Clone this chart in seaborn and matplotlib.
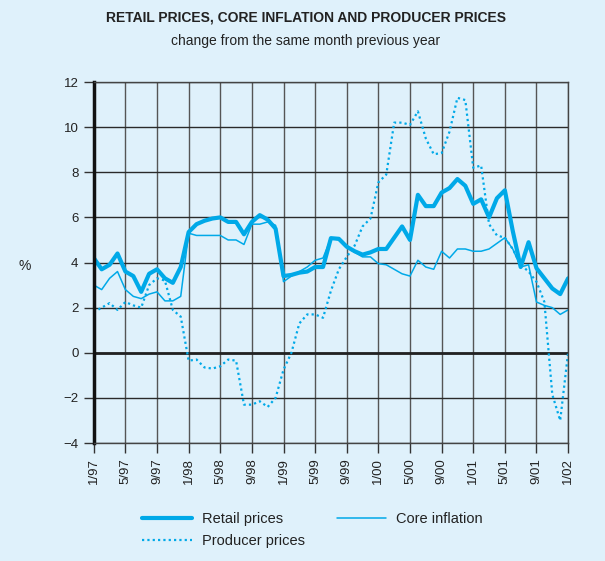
import matplotlib
matplotlib.use("Agg")
import matplotlib.pyplot as plt
import numpy as np
import pandas as pd
import seaborn as sns

# monthly data, 1/97 .. 1/02 (% change from same month previous year)
retail = [4.2, 3.7, 3.9, 4.4, 3.6, 3.4, 2.7, 3.5, 3.7, 3.3, 3.1, 3.8,
          5.35, 5.7, 5.85, 5.95, 6.0, 5.8, 5.8, 5.25, 5.8, 6.1, 5.9, 5.5,
          3.4, 3.45, 3.55, 3.6, 3.8, 3.8, 5.08, 5.05, 4.7, 4.5, 4.35, 4.45,
          4.6, 4.6, 5.1, 5.6, 5.0, 7.0, 6.5, 6.5, 7.1, 7.3, 7.7, 7.4,
          6.6, 6.8, 6.0, 6.85, 7.2, 5.4, 3.8, 4.9, 3.75, 3.3, 2.85, 2.6,
          3.3]
core = [3.0, 2.8, 3.3, 3.6, 2.8, 2.5, 2.4, 2.6, 2.7, 2.3, 2.3, 2.5,
        5.3, 5.2, 5.2, 5.2, 5.2, 5.0, 5.0, 4.8, 5.7, 5.7, 5.8, 5.65,
        3.15, 3.4, 3.6, 3.8, 4.1, 4.2, 5.08, 5.0, 4.7, 4.45, 4.25, 4.25,
        3.95, 3.9, 3.7, 3.5, 3.4, 4.1, 3.8, 3.7, 4.5, 4.2, 4.6, 4.6,
        4.5, 4.5, 4.6, 4.85, 5.1, 4.6, 3.8, 3.9, 2.25, 2.1, 2.0, 1.7,
        1.9]
producer = [1.8, 2.0, 2.2, 1.9, 2.25, 2.1, 2.0, 3.0, 3.3, 3.2, 1.9, 1.6,
            -0.35, -0.3, -0.65, -0.7, -0.6, -0.3, -0.35, -2.3, -2.3, -2.15, -2.4, -2.0,
            -0.75, 0.0, 1.3, 1.7, 1.7, 1.55, 2.75, 3.7, 4.25, 4.75, 5.6, 5.95,
            7.55, 7.9, 10.2, 10.2, 10.1, 10.7, 9.5, 8.8, 8.85, 9.8, 11.3, 11.2,
            8.2, 8.3, 5.7, 5.2, 5.1, 4.6, 3.9, 3.6, 3.15, 2.25, -1.85, -3.0,
            0.0]
tick_labels = ["1/97", "5/97", "9/97", "1/98", "5/98", "9/98", "1/99", "5/99",
               "9/99", "1/00", "5/00", "9/00", "1/01", "5/01", "9/01", "1/02"]

BG = "#dff1fb"
LINE = "#00a9e8"

sns.set_theme(style="white")
plt.rcParams["font.family"] = ["Liberation Sans", "DejaVu Sans"]

months = np.arange(len(retail))
df = pd.DataFrame({"month": months, "Retail prices": retail,
                   "Core inflation": core, "Producer prices": producer})

fig = plt.figure(figsize=(6.05, 5.61), dpi=100, facecolor=BG)
ax = fig.add_axes([0.155, 0.2103, 0.784, 0.6435], facecolor=BG)

sns.lineplot(data=df, x="month", y="Retail prices", ax=ax, color=LINE,
             linewidth=3.0, label="Retail prices")
sns.lineplot(data=df, x="month", y="Core inflation", ax=ax, color=LINE,
             linewidth=1.1, label="Core inflation")
sns.lineplot(data=df, x="month", y="Producer prices", ax=ax, color=LINE,
             linewidth=1.6, linestyle=(0, (1, 1.4)), label="Producer prices")

ax.set_xlim(0, 60)
ax.set_ylim(-4, 12)
ax.set_xticks(np.arange(0, 61, 4))
ax.set_xticklabels(tick_labels, rotation=90, fontsize=9.5, color="#222222")
ax.set_yticks(np.arange(-4, 13, 2))
ax.set_yticklabels([str(v).replace("-", "\u2212") for v in range(-4, 13, 2)],
                   fontsize=9.5, color="#222222")
ax.tick_params(axis="both", length=7, width=1.0, color="#333333",
               bottom=True, left=True, pad=4)
ax.grid(True, axis="x", color="#555555", linewidth=1.0)
ax.grid(True, axis="y", color="#2a2a2a", linewidth=1.0)
ax.set_axisbelow(True)
ax.axhline(0, color="#222222", linewidth=2.0, zorder=1.5)

for side in ["top", "right", "bottom"]:
    ax.spines[side].set_color("#444444")
    ax.spines[side].set_linewidth(1.0)
ax.spines["left"].set_color("#111111")
ax.spines["left"].set_linewidth(2.5)

ax.set_xlabel("")
ax.set_ylabel("%", rotation=0, fontsize=10, color="#222222")
ax.yaxis.set_label_coords(-0.145, 0.47)

fig.text(0.505, 0.968, "RETAIL PRICES, CORE INFLATION AND PRODUCER PRICES",
         ha="center", va="center", fontsize=10, fontweight="bold", color="#222222")
fig.text(0.505, 0.927, "change from the same month previous year",
         ha="center", va="center", fontsize=10, color="#222222")

# legend: column-major fill, so order gives rows (Retail, Core) / (Producer)
handles, labels = ax.get_legend_handles_labels()
order = [0, 2, 1]
leg = ax.legend([handles[i] for i in order], [labels[i] for i in order],
                loc="upper left", bbox_to_anchor=(0.075, -0.155), ncol=2,
                frameon=False, fontsize=10.5, handlelength=3.4,
                columnspacing=2.15, handletextpad=0.7, labelspacing=0.55)
for t in leg.get_texts():
    t.set_color("#222222")

fig.savefig("out.png", dpi=100, facecolor=BG)
